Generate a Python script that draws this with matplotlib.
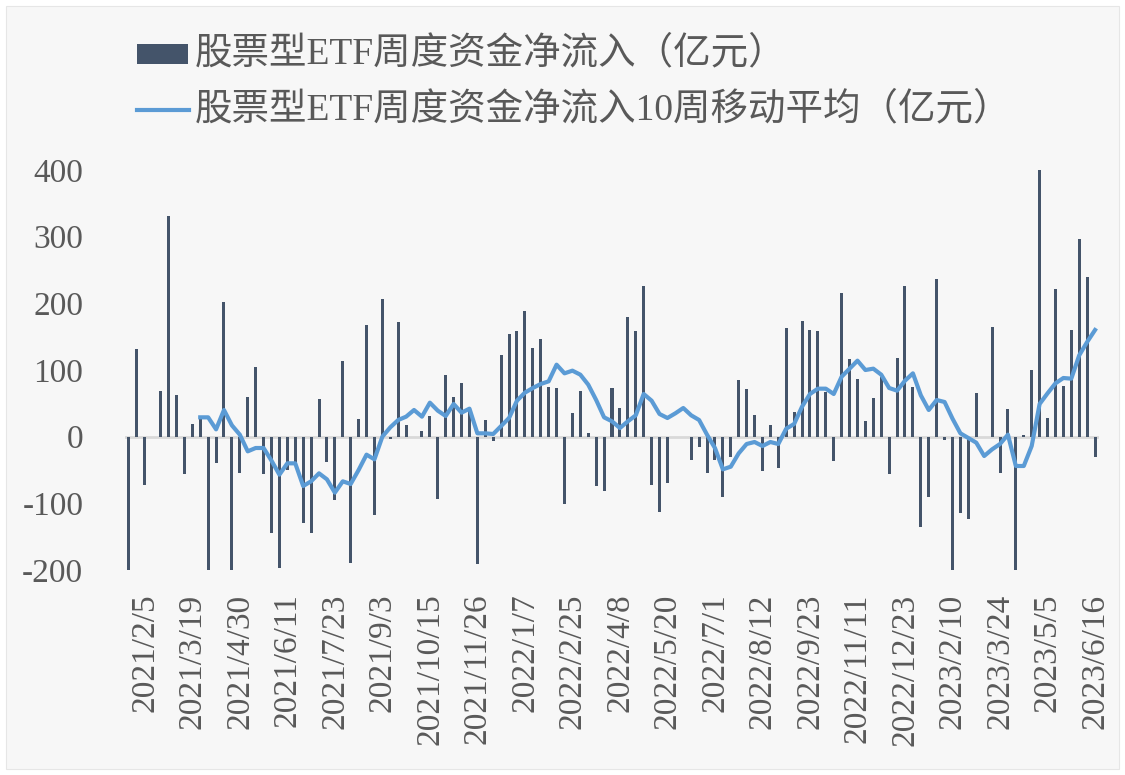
import numpy as np
import matplotlib
matplotlib.use("Agg")
import matplotlib.pyplot as plt
from matplotlib.patches import Rectangle
from matplotlib.lines import Line2D

# weekly net inflow of equity ETFs (100m yuan), 123 weeks
flows = [
    -220, 132, -72, 0, 68, 331, 62, -56, 19, 27,
    -220, -40, 202, -220, -54, 60, 104, -56, -145, -197,
    -50, -39, -130, -145, 57, -38, -95, 114, -190, 27,
    168, -117, 206, -4, 172, 17, 0, 8, 31, -93,
    93, 59, 80, 40, -191, 25, -6, 123, 154, 159,
    189, 133, 147, 75, 73, -101, 35, 69, 6, -74,
    -81, 73, 43, 180, 159, 226, -73, -113, -69, 0,
    0, -35, -15, -55, -35, -90, -31, 85, 71, 33,
    -51, 18, -47, 163, 37, 173, 160, 158, 67, -36,
    215, 116, 87, 23, 58, 90, -56, 118, 226, 74,
    -136, -91, 236, -5, -220, -115, -124, 65, 0, 164,
    -54, 42, -220, 2, 100, 402, 28, 222, 76, 160,
    296, 239, -31,
]

# 10-week moving average (starts at week 10)
ma10 = [np.nan] * 9 + [
    29, 29, 11, 40, 17, 3, -22, -17, -17, -36,
    -57, -40, -40, -74, -67, -55, -64, -84, -67, -71,
    -50, -27, -34, 0, 14, 25, 30, 40, 30, 51,
    39, 31, 49, 36, 42, 5, 5, 4, 16, 28,
    54, 66, 73, 79, 83, 108, 95, 99, 93, 78,
    55, 29, 23, 13, 23, 32, 64, 54, 34, 28,
    35, 43, 32, 25, 3, -17, -49, -45, -25, -11,
    -8, -14, -8, -11, 12, 19, 45, 64, 72, 72,
    64, 90, 102, 114, 100, 102, 93, 73, 69, 84,
    95, 62, 40, 55, 52, 27, 5, -2, -9, -29,
    -19, -11, 3, -44, -44, -14, 49, 65, 80, 88,
    87, 122, 142, 160,
]

tick_labels = [
    "2021/2/5", "2021/3/19", "2021/4/30", "2021/6/11", "2021/7/23",
    "2021/9/3", "2021/10/15", "2021/11/26", "2022/1/7", "2022/2/25",
    "2022/4/8", "2022/5/20", "2022/7/1", "2022/8/12", "2022/9/23",
    "2022/11/11", "2022/12/23", "2023/2/10", "2023/3/24", "2023/5/5",
    "2023/6/16",
]
tick_pos = list(range(2, 123, 6))

bar_color = "#44546A"
line_color = "#5B9BD5"
text_color = "#595959"
bg = "#F7F7F7"

serif_cjk = ["Liberation Serif", "Noto Sans CJK SC"]

fig = plt.figure(figsize=(11.25, 7.75), dpi=100)
fig.patch.set_facecolor("white")
fig.patches.append(Rectangle((6 / 1125, 6 / 775), 1 - 12 / 1125, 1 - 12 / 775,
                             transform=fig.transFigure, facecolor=bg,
                             edgecolor="#E6E6E6", lw=0.8, zorder=-10))

ax = fig.add_axes([125 / 1125, 1 - 570 / 775, (1099 - 125) / 1125, 400 / 775])
ax.set_facecolor(bg)
ax.patch.set_alpha(0)

x = np.arange(len(flows))
ax.axhline(0, color="#D9D9D9", lw=2, zorder=1)
ax.bar(x, flows, width=0.38, color=bar_color, zorder=2)
ax.plot(x, ma10, color=line_color, lw=3, solid_joinstyle="round", zorder=3)

ax.set_xlim(-0.5, len(flows) - 0.5)
ax.set_ylim(-200, 400)
ax.set_yticks([-200, -100, 0, 100, 200, 300, 400])
ax.set_yticklabels(["-200", "-100", "0", "100", "200", "300", "400"],
                   fontfamily="Liberation Serif", fontsize=24, color=text_color)
ax.set_xticks(tick_pos)
ax.set_xticklabels(tick_labels, rotation=90, fontfamily="Liberation Serif",
                   fontsize=24, color=text_color, va="top", ha="center")
ax.tick_params(axis="both", length=0)
ax.tick_params(axis="y", pad=30)
ax.tick_params(axis="x", pad=17)
for s in ax.spines.values():
    s.set_visible(False)

# legend drawn by hand at top
fig.patches.append(Rectangle((137 / 1125, 1 - 64 / 775), 51 / 1125, 20 / 775,
                             transform=fig.transFigure, facecolor=bar_color,
                             edgecolor="none"))
fig.lines.append(Line2D([137 / 1125, 189 / 1125], [1 - 110 / 775, 1 - 110 / 775],
                        transform=fig.transFigure, color=line_color, lw=3))
fig.text(195 / 1125, 1 - 54 / 775, "股票型ETF周度资金净流入（亿元）",
         family=serif_cjk, fontsize=27, color=text_color, va="center", ha="left")
fig.text(195 / 1125, 1 - 110 / 775, "股票型ETF周度资金净流入10周移动平均（亿元）",
         family=serif_cjk, fontsize=27, color=text_color, va="center", ha="left")

fig.savefig("out.png", dpi=100, facecolor=fig.get_facecolor())
